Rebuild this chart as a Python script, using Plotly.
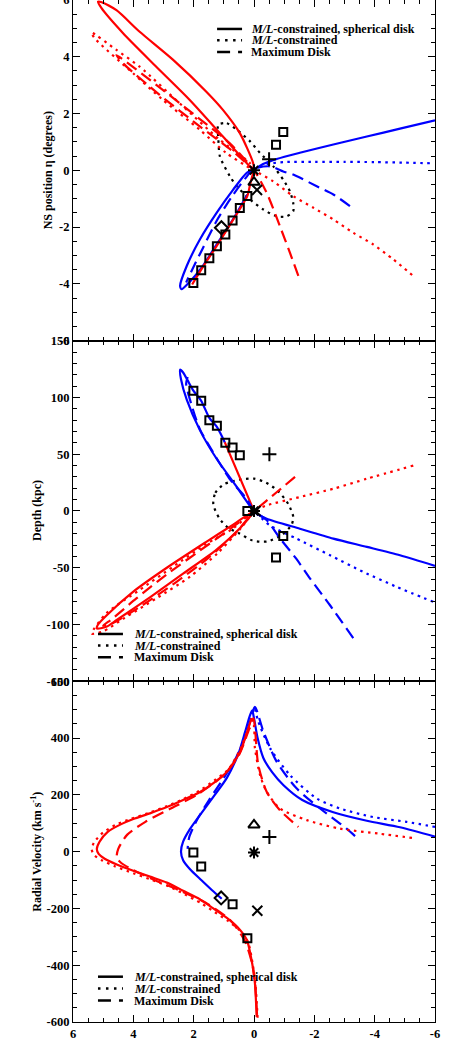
import plotly.graph_objects as go
from plotly.subplots import make_subplots

RED = "#ff0000"
BLUE = "#0000ff"
BLACK = "#000000"
FONT = "Liberation Serif"

# ---------------- panel 1: sky position (xi, eta), degrees ----------------
P1_RED_SOLID_XI = [0.0, 0.12, 0.22, 0.71, 1.23, 1.75, 2.05, None,
                   0.0, 0.03, 0.47, 1.03, 1.58, 2.68, 3.79, 4.56, 5.05, 5.17, 5.06, 4.34, 3.24, 2.13, 1.03,
                   0.14, 0.0]
P1_RED_SOLID_ETA = [0.0, -0.45, -0.90, -1.77, -2.65, -3.5, -4.02, None,
                    0.0, 0.26, 1.31, 2.13, 2.77, 3.89, 4.88, 5.64, 5.92, 5.94, 5.72, 4.83, 3.65, 2.48, 1.19,
                    0.14, 0.0]
P1_RED_DOT_XI = [0.0, 0.14, 1.14, 2.35, 3.79, 4.56, 5.39, 5.28, 4.01, 3.02, 1.80, 0.92, 0.14, 0.0,
                 -0.64, -1.30, -1.97, -2.63, -3.29, -3.95, -4.62, -5.28]
P1_RED_DOT_ETA = [0.0, 0.26, 1.08, 2.25, 3.65, 4.24, 4.86, 4.65, 3.42, 2.48, 1.43, 0.61, 0.08, 0.0,
                  -0.39, -0.91, -1.32, -1.73, -2.20, -2.61, -3.14, -3.72]
P1_RED_DASH_XI = [-1.47, -1.19, -0.86, -0.42, 0.0, 0.81, 1.91, 3.24, 4.56, 4.34, 3.13, 1.80, 0.70, 0.0]
P1_RED_DASH_ETA = [-3.72, -2.90, -1.97, -0.79, 0.0, 0.96, 1.90, 3.01, 4.06, 3.77, 2.66, 1.55, 0.67, 0.0]
P1_BLUE_SOLID_XI = [-6.0, -4.84, -3.74, -2.63, -1.52, -0.75, -0.3, 0.0, 0.24, 0.69, 1.24, 1.79, 2.23, 2.45,
                    2.40, 2.15, 1.75, 1.23, 0.71, 0.22]
P1_BLUE_SOLID_ETA = [1.76, 1.47, 1.19, 0.91, 0.62, 0.40, 0.22, 0.03, -0.09, -0.68, -1.50, -2.43, -3.37, -4.07,
                     -4.19, -3.95, -3.45, -2.60, -1.75, -0.85]
P1_BLUE_DOT_XI = [-5.83, -5.0, -4.0, -3.0, -2.0, -1.0, -0.42, 0.0]
P1_BLUE_DOT_ETA = [0.25, 0.27, 0.29, 0.30, 0.30, 0.29, 0.22, 0.05]
P1_BLUE_DASH_XI = [-3.18, -2.63, -2.08, -1.30, -0.97, -0.53, 0.0, 0.3, 0.75, 1.25, 1.7, 2.05, 2.25]
P1_BLUE_DASH_ETA = [-1.26, -0.85, -0.56, -0.15, -0.04, 0.14, 0.05, -0.3, -0.95, -1.8, -2.75, -3.5, -3.95]
P1_DISK_XI = [1.18, 0.90, 0.57, 0.13, -0.2, -0.64, -0.97, -1.19, -1.30, -1.30, -1.08, -0.75, -0.31, 0.13,
              0.57, 0.80, 1.13, 1.18, 1.18]
P1_DISK_ETA = [1.61, 1.66, 1.43, 1.02, 0.61, 0.14, -0.33, -0.74, -1.15, -1.44, -1.62, -1.62, -1.38, -1.03,
               -0.56, -0.21, 0.49, 1.08, 1.61]

# stream fields and satellites
SQ_XI = [2.01, 1.75, 1.48, 1.23, 0.95, 0.71, 0.47, 0.22, -0.73, -0.97]
P1_SQ_ETA = [-3.97, -3.52, -3.10, -2.67, -2.26, -1.77, -1.33, -0.90, 0.90, 1.35]
P1_DIAMOND = (1.08, -2.02)
P1_PLUS = (-0.5, 0.39)
P1_TRIANGLE = (0.0, -0.42)
P1_X = (-0.1, -0.69)
P1_STAR = (0.0, 0.0)

# ---------------- panel 2: depth, kpc ----------------
P2_RED_SOLID_XI = [0.0, 0.48, 0.97, None,
                   0.0, 0.69, 1.57, 2.89, 4.0, 4.89, 5.17, 5.21, 4.9, 4.55, 3.45, 2.34, 1.24, 0.46, 0.0]
P2_RED_SOLID_D = [0, 30, 60.6, None,
                  0, -12, -27, -50, -71, -92, -100, -103.5, -102, -96, -76, -55, -34, -15, 0]
P2_RED_DOT_XI = [-5.28, -3.74, -2.63, -1.52, -0.42, 0.0, 0.70, 1.58, 2.68, 3.79, 4.89, 5.38, 5.0, 4.34, 3.24,
                 2.13, 1.2, 0.4, 0.0]
P2_RED_DOT_D = [40, 28.4, 19.6, 12.3, 4.9, 0, -15.5, -29, -49, -69.5, -90, -108, -106, -95, -77, -58, -37, -14, 0]
P2_RED_DASH_XI = [-1.36, -0.75, 0.0, 0.8, 1.8, 2.9, 3.9, 4.7, 5.0, 4.7, 3.7, 2.6, 1.5, 0.6, 0.0]
P2_RED_DASH_D = [30, 16.5, 0, -16, -35, -56, -77, -95, -101, -99, -83, -63, -41, -19, 0]
P2_BLUE_SOLID_XI = [-6.0, -4.84, -3.74, -2.63, -1.52, -0.42, -0.09, 0.0, 0.15, 0.62, 1.24, 1.79, 2.23, 2.42,
                    2.45, 2.35, 2.2, 2.01, 1.75, 1.48, 1.23, 0.97]
P2_BLUE_SOLID_D = [-48.3, -39, -31.6, -24.3, -15.6, -6.8, -2.4, 0, 5, 23, 46, 71, 98, 116, 124.5, 122, 115,
                   106, 97, 82, 74, 60.6]
P2_BLUE_DOT_XI = [-5.94, -4.73, -3.62, -2.52, -1.41, -0.53, 0.0]
P2_BLUE_DOT_D = [-80, -66.8, -53.6, -39, -24.3, -12.7, 0]
P2_BLUE_DASH_XI = [-3.29, -2.52, -1.86, -1.4, -0.86, -0.42, 0.0, 0.25, 0.81, 1.36, 1.80, 2.13, 2.25, 2.2]
P2_BLUE_DASH_D = [-112, -83, -59.5, -42, -24, -8, 0, 10.8, 28.4, 51.9, 72.3, 98.7, 112, 118]
P2_DISK_XI = [1.35, 1.28, 1.0, 0.5, 0.0, -0.4, -0.8, -1.14, -1.30, -1.25, -0.95, -0.45, 0.05, 0.5, 0.85,
              1.15, 1.35]
P2_DISK_D = [6, 16, 23.5, 27.5, 28.5, 25, 17.5, 6, -5, -12, -20.5, -26.8, -26, -19.5, -15, -6.5, 6]
P2_SQ_D = [106, 97, 80, 75, 60, 56, 49, 0, -41, -22]
P2_PLUS = (-0.51, 50)
P2_X = (-0.05, 0)
P2_STAR = (0.0, 0.0)

# ---------------- panel 3: radial velocity, km/s ----------------
P3_RED_SOLID_XI = [-0.09, -0.03, 0.05, 0.24, 0.55, 0.90, 1.35, 1.79, 2.35, 2.89, 3.45, 3.98, 4.55, 4.95, 5.15,
                   5.21, 5.12, 4.85, 4.4, 4.0, 3.45, 2.89, 2.35, 1.79, 1.3, 0.90, 0.46, 0.19, 0.08]
P3_RED_SOLID_V = [-582, -463, -400, -310, -265, -233, -200, -168, -138, -109, -88, -68, -45, -25, -8,
                  9, 35, 70, 97, 115, 135, 157, 182, 210, 245, 281, 352, 434, 471]
P3_RED_DOT_XI = [-0.12, -0.05, 0.03, 0.2, 0.5, 0.85, 1.3, 1.75, 2.3, 2.85, 3.45, 4.0, 4.6, 5.05, 5.3, 5.38,
                 5.3, 5.0, 4.55, 4.1, 3.5, 2.9, 2.35, 1.8, 1.3, 0.85, 0.45, 0.18, 0.02, -0.03, -0.2, -0.42,
                 -0.86, -1.75, -2.85, -4.18, -5.28]
P3_RED_DOT_V = [-585, -470, -405, -318, -275, -245, -213, -182, -150, -121, -97, -76, -52, -30, -12, 8,
                33, 68, 96, 115, 136, 160, 185, 215, 252, 290, 362, 430, 447, 365, 270, 211,
                152, 111, 81, 63, 48]
P3_RED_DASH_XI = [-0.1, -0.04, 0.05, 0.3, 0.8, 1.6, 2.5, 3.3, 4.0, 4.4, 4.55, 4.5, 4.2, 3.6, 2.8, 1.9, 1.0,
                  0.5, 0.2, 0.02, -0.14, -0.42, -0.86, -1.47]
P3_RED_DASH_V = [-575, -470, -400, -315, -240, -180, -135, -100, -65, -40, -22, 10, 60, 105, 150, 200, 270,
                 340, 420, 470, 306, 211, 146, 87]
P3_BLUE_SOLID_XI = [-6.0, -4.84, -3.74, -2.63, -1.6, -0.97, -0.6, -0.31, -0.12, 0.0, 0.06, 0.15, 0.3, 0.5,
                    0.9, 1.3, 1.75, 2.12, 2.35, 2.42, 2.35, 2.12, 1.75, 1.4, 1.07]
P3_BLUE_SOLID_V = [53, 86, 109, 139, 182, 235, 280, 330, 400, 470, 498, 475, 420, 350,
                   260, 200, 135, 80, 35, 0, -30, -62, -100, -135, -166]
P3_BLUE_DOT_XI = [-6.0, -5.06, -3.95, -2.85, -2.08, -1.19, -0.53, -0.14, -0.03]
P3_BLUE_DOT_V = [87, 105, 122, 152, 187, 270, 365, 459, 506]
P3_BLUE_DASH_XI = [-3.35, -3.07, -2.85, -2.19, -1.41, -0.75, -0.31, -0.03, 0.1, 0.3, 0.6, 1.0, 1.5, 1.9,
                   2.15, 2.2]
P3_BLUE_DASH_V = [55, 81, 99, 152, 223, 317, 424, 510, 470, 400, 330, 260, 180, 110, 50, 10]
P3_SQ_XI = [2.01, 1.75, 0.71, 0.22]
P3_SQ_V = [-3, -52, -185, -305]
P3_DIAMOND = (1.09, -163)
P3_TRIANGLE = (0.0, 94)
P3_PLUS = (-0.51, 52)
P3_STAR = (0.0, -3)
P3_X = (-0.11, -208)

# axes
X_TICKS = [6, 4, 2, 0, -2, -4, -6]
Y1_TICKS = [-6, -4, -2, 0, 2, 4, 6]
Y2_TICKS = [-150, -100, -50, 0, 50, 100, 150]
Y3_TICKS = [-600, -400, -200, 0, 200, 400, 600]
Y_TITLES = ["NS position η (degrees)", "Depth (kpc)", "Radial Velocity (km s<sup>-1</sup>)"]
X_TITLE = "EW position ξ (degrees)"
LEGEND_LABELS = ["<i>M/L</i>-constrained, spherical disk", "<i>M/L</i>-constrained", "Maximum Disk"]

DOT = "2.5px,4.5px"
DASH = "12px,6px"

fig = make_subplots(rows=3, cols=1, shared_xaxes=True, vertical_spacing=0)


def curve(xs, ys, color, dash, row):
    fig.add_trace(go.Scatter(
        x=xs, y=ys, mode="lines",
        line=dict(color=color, width=2.2, dash=dash, shape="spline", smoothing=0.7),
        hoverinfo="skip", showlegend=False,
    ), row=row, col=1)


def points(xs, ys, symbol, size, row):
    fig.add_trace(go.Scatter(
        x=xs, y=ys, mode="markers",
        marker=dict(symbol=symbol, size=size, color=BLACK, line=dict(color=BLACK, width=2)),
        hoverinfo="skip", showlegend=False, cliponaxis=False,
    ), row=row, col=1)


# panel 1
curve(P1_DISK_XI, P1_DISK_ETA, BLACK, DOT, 1)
curve(P1_BLUE_SOLID_XI, P1_BLUE_SOLID_ETA, BLUE, "solid", 1)
curve(P1_BLUE_DOT_XI, P1_BLUE_DOT_ETA, BLUE, DOT, 1)
curve(P1_BLUE_DASH_XI, P1_BLUE_DASH_ETA, BLUE, DASH, 1)
curve(P1_RED_DOT_XI, P1_RED_DOT_ETA, RED, DOT, 1)
curve(P1_RED_DASH_XI, P1_RED_DASH_ETA, RED, DASH, 1)
curve(P1_RED_SOLID_XI, P1_RED_SOLID_ETA, RED, "solid", 1)
points(SQ_XI, P1_SQ_ETA, "square-open", 8, 1)
points([P1_DIAMOND[0]], [P1_DIAMOND[1]], "diamond-open", 10, 1)
points([P1_PLUS[0]], [P1_PLUS[1]], "cross-thin-open", 10, 1)
points([P1_TRIANGLE[0]], [P1_TRIANGLE[1]], "triangle-up-open", 10, 1)
points([P1_X[0]], [P1_X[1]], "x-thin-open", 10, 1)
points([P1_STAR[0]], [P1_STAR[1]], "asterisk-open", 10, 1)

# panel 2
curve(P2_DISK_XI, P2_DISK_D, BLACK, DOT, 2)
curve(P2_RED_DOT_XI, P2_RED_DOT_D, RED, DOT, 2)
curve(P2_RED_DASH_XI, P2_RED_DASH_D, RED, DASH, 2)
curve(P2_RED_SOLID_XI, P2_RED_SOLID_D, RED, "solid", 2)
curve(P2_BLUE_DOT_XI, P2_BLUE_DOT_D, BLUE, DOT, 2)
curve(P2_BLUE_DASH_XI, P2_BLUE_DASH_D, BLUE, DASH, 2)
curve(P2_BLUE_SOLID_XI, P2_BLUE_SOLID_D, BLUE, "solid", 2)
points(SQ_XI, P2_SQ_D, "square-open", 8, 2)
points([P2_PLUS[0]], [P2_PLUS[1]], "cross-thin-open", 10, 2)
points([P2_X[0]], [P2_X[1]], "x-thin-open", 10, 2)
points([P2_STAR[0]], [P2_STAR[1]], "asterisk-open", 10, 2)

# panel 3
curve(P3_BLUE_DOT_XI, P3_BLUE_DOT_V, BLUE, DOT, 3)
curve(P3_BLUE_DASH_XI, P3_BLUE_DASH_V, BLUE, DASH, 3)
curve(P3_BLUE_SOLID_XI, P3_BLUE_SOLID_V, BLUE, "solid", 3)
curve(P3_RED_DOT_XI, P3_RED_DOT_V, RED, DOT, 3)
curve(P3_RED_DASH_XI, P3_RED_DASH_V, RED, DASH, 3)
curve(P3_RED_SOLID_XI, P3_RED_SOLID_V, RED, "solid", 3)
points(P3_SQ_XI, P3_SQ_V, "square-open", 8, 3)
points([P3_DIAMOND[0]], [P3_DIAMOND[1]], "diamond-open", 10, 3)
points([P3_TRIANGLE[0]], [P3_TRIANGLE[1]], "triangle-up-open", 10, 3)
points([P3_PLUS[0]], [P3_PLUS[1]], "cross-thin-open", 10, 3)
points([P3_STAR[0]], [P3_STAR[1]], "asterisk-open", 10, 3)
points([P3_X[0]], [P3_X[1]], "x-thin-open", 10, 3)

tick_font = dict(family=FONT, size=12.5, color=BLACK, weight="bold")
title_font = dict(family=FONT, size=12, color=BLACK)

axis_common = dict(
    showline=True, linecolor=BLACK, linewidth=1, mirror="allticks",
    ticks="inside", ticklen=7, tickwidth=1, tickcolor=BLACK,
    showgrid=False, zeroline=False, tickfont=tick_font, tickmode="array",
    automargin=False, ticklabeloverflow="allow",
)


def minor(step):
    return dict(ticks="inside", ticklen=4, tickwidth=1, tickcolor=BLACK, dtick=step, tick0=0, showgrid=False)


for r in (1, 2, 3):
    fig.update_xaxes(
        range=[6, -6], tickvals=X_TICKS, ticktext=[str(v) for v in X_TICKS], minor=minor(0.5),
        showticklabels=(r == 3), row=r, col=1, **axis_common,
    )

Y_SETUP = [
    (1, [-6, 6], Y1_TICKS, [2 / 3, 1], 0.5, -25),
    (2, [-150, 150], Y2_TICKS, [1 / 3, 2 / 3], 10, -36),
    (3, [-600, 600], Y3_TICKS, [0, 1 / 3], 50, -36),
]
for r, rng, ticks, dom, mstep, shift in Y_SETUP:
    fig.update_yaxes(
        range=rng, tickvals=ticks, ticktext=[str(v) for v in ticks], domain=dom, minor=minor(mstep),
        row=r, col=1, **axis_common,
    )
    yr = "y domain" if r == 1 else f"y{r} domain"
    fig.add_annotation(xref="paper", yref=yr, x=0, y=0.5, xshift=shift, textangle=-90,
                       text=f"<b>{Y_TITLES[r - 1]}</b>", showarrow=False,
                       xanchor="center", yanchor="middle", font=title_font)

fig.add_annotation(xref="paper", yref="paper", x=0.5, y=0, yshift=-21, text=f"<b>{X_TITLE}</b>",
                   showarrow=False, xanchor="center", yanchor="top", font=title_font)

# hand-drawn legends (one per panel), positioned in each panel's domain
LEGEND_POS = {
    1: dict(x0=0.398, x1=0.467, xt=0.486, ys=[0.915, 0.882, 0.847]),
    2: dict(x0=0.069, x1=0.138, xt=0.163, ys=[0.139, 0.105, 0.071]),
    3: dict(x0=0.069, x1=0.138, xt=0.163, ys=[0.133, 0.098, 0.063]),
}
STYLES = ["solid", "2.5px,5.5px", "13px,8px"]
for r, pos in LEGEND_POS.items():
    xr = "x domain" if r == 1 else f"x{r} domain"
    yr = "y domain" if r == 1 else f"y{r} domain"
    for label, style, yy in zip(LEGEND_LABELS, STYLES, pos["ys"]):
        fig.add_shape(type="line", xref=xr, yref=yr, x0=pos["x0"], x1=pos["x1"], y0=yy, y1=yy,
                      line=dict(color=BLACK, width=2.5, dash=style))
        fig.add_annotation(xref=xr, yref=yr, x=pos["xt"], y=yy, text=f"<b>{label}</b>", showarrow=False,
                           xanchor="left", yanchor="middle", font=dict(family=FONT, size=12, color=BLACK))

fig.update_layout(
    template="none",
    width=458, height=1046,
    margin=dict(l=73, r=23, t=0, b=24, autoexpand=False),
    paper_bgcolor="white", plot_bgcolor="white",
    showlegend=False,
    font=dict(family=FONT, color=BLACK),
)

fig.write_html("out.html", config={"displayModeBar": False},
               post_script="document.body.style.margin='0px';")
